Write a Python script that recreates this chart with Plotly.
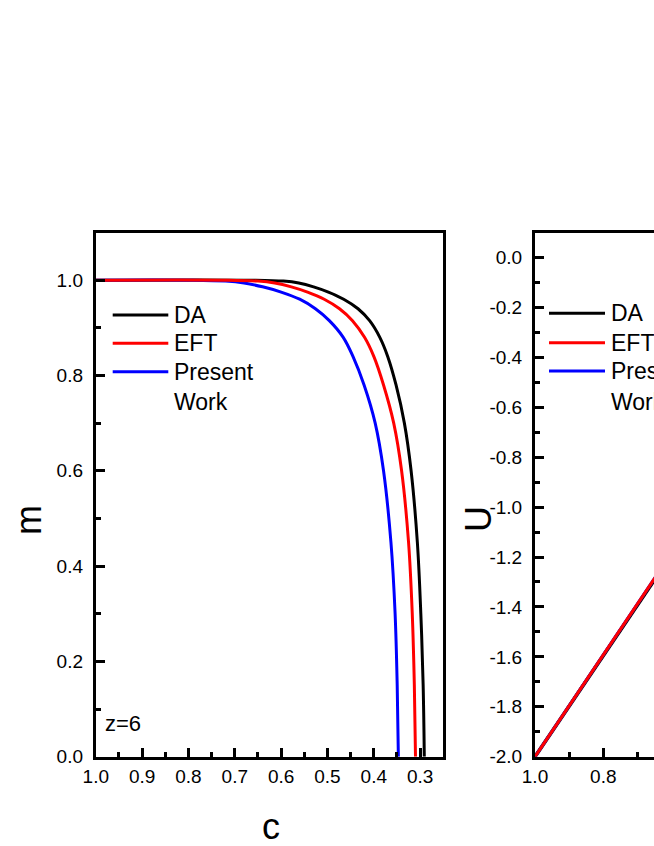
import plotly.graph_objects as go

# ---------------- data ----------------
# Left panel: m vs c (z=6)
m_levels = [0.0, 0.15, 0.3, 0.45, 0.6, 0.7, 0.78, 0.84, 0.88, 0.915, 0.94, 0.96, 0.975, 0.986, 0.994, 0.998, 1.0, 1.0]
c_DA = [0.291, 0.2935, 0.2985, 0.306, 0.3195, 0.334, 0.352, 0.370, 0.387, 0.409, 0.434, 0.465, 0.498, 0.530, 0.562, 0.595, 0.660, 1.0]
c_EFT = [0.310, 0.3125, 0.317, 0.325, 0.340, 0.357, 0.379, 0.400, 0.420, 0.446, 0.474, 0.507, 0.543, 0.578, 0.614, 0.650, 0.720, 1.0]
c_PW = [0.347, 0.3495, 0.354, 0.363, 0.379, 0.397, 0.421, 0.445, 0.466, 0.496, 0.526, 0.560, 0.600, 0.640, 0.680, 0.720, 0.800, 1.0]

# Right panel: U vs c (visible part)
c_U = [1.0, 0.9, 0.8, 0.7, 0.6]
U_DA = [-2.0, -1.799, -1.597, -1.392, -1.190]
U_EFT = [-2.0, -1.796, -1.592, -1.388, -1.184]
U_PW = [-2.0, -1.796, -1.592, -1.388, -1.184]

# tick labels
m_ticks = [0.0, 0.2, 0.4, 0.6, 0.8, 1.0]
m_ticklabels = ["0.0", "0.2", "0.4", "0.6", "0.8", "1.0"]
c_ticks = [1.0, 0.9, 0.8, 0.7, 0.6, 0.5, 0.4, 0.3]
c_ticklabels = ["1.0", "0.9", "0.8", "0.7", "0.6", "0.5", "0.4", "0.3"]
U_ticks = [0.0, -0.2, -0.4, -0.6, -0.8, -1.0, -1.2, -1.4, -1.6, -1.8, -2.0]
U_ticklabels = ["0.0", "-0.2", "-0.4", "-0.6", "-0.8", "-1.0", "-1.2", "-1.4", "-1.6", "-1.8", "-2.0"]
c2_ticks = [1.0, 0.8, 0.6]
c2_ticklabels = ["1.0", "0.8", "0.6"]

series_names = ["DA", "EFT", "Present Work"]
series_colors = ["#000000", "#ff0000", "#0000ff"]

W, H = 654, 846
def px(x):
    return x / W
def py(y):
    return 1 - y / H

FONT = "Liberation Sans, Arial, sans-serif"

fig = go.Figure()

left_data = [(c_DA, "#000000"), (c_PW, "#0000ff"), (c_EFT, "#ff0000")]
for cx, col in left_data:
    fig.add_trace(go.Scatter(x=cx, y=m_levels, mode="lines", xaxis="x", yaxis="y",
                             line=dict(color=col, width=3, shape="spline", smoothing=1.0),
                             showlegend=False, hoverinfo="skip"))

right_data = [(U_DA, "#000000", 3.6), (U_PW, "#0000ff", 3), (U_EFT, "#ff0000", 3)]
for uy, col, w in right_data:
    fig.add_trace(go.Scatter(x=c_U, y=uy, mode="lines", xaxis="x2", yaxis="y2",
                             line=dict(color=col, width=w), showlegend=False, hoverinfo="skip"))

# plot areas (pixels)
L1, R1 = 95.8, 443.3
L2 = 535.0
TOP, BOT = 232.5, 756.7

axis_common = dict(showline=True, linewidth=3, linecolor="black", ticks="inside",
                   tickwidth=3, ticklen=9, tickcolor="black", showgrid=False, zeroline=False,
                   automargin=False,
                   tickfont=dict(family=FONT, size=19, color="black"))

def minor(dt):
    return dict(ticks="inside", ticklen=5, tickwidth=3, tickcolor="black", dtick=dt, tick0=0, showgrid=False)

fig.update_layout(
    width=W, height=H, margin=dict(l=0, r=0, t=0, b=0, autoexpand=False),
    paper_bgcolor="white", plot_bgcolor="white",
    xaxis=dict(domain=[px(L1), px(R1)], range=[1.0, 0.25], tickmode="array",
               tickvals=c_ticks, ticktext=c_ticklabels, mirror=True, anchor="y",
               minor=minor(0.05), **axis_common),
    yaxis=dict(domain=[py(BOT), py(TOP)], range=[0, 1.1], tickmode="array",
               tickvals=m_ticks, ticktext=m_ticklabels, mirror=True, anchor="x",
               ticklabelstandoff=6, minor=minor(0.1), **axis_common),
    xaxis2=dict(domain=[px(L2), 1.0], range=[1.0, 1 - (W - L2) / 341.5], tickmode="array",
                tickvals=c2_ticks, ticktext=c2_ticklabels, mirror=True, anchor="y2",
                minor=minor(0.1), **axis_common),
    yaxis2=dict(domain=[py(BOT), py(TOP)], range=[-2.0, 0.1], tickmode="array",
                tickvals=U_ticks, ticktext=U_ticklabels, mirror=False, anchor="x2",
                ticklabelstandoff=6, minor=minor(0.1), **axis_common),
)

annotations = []
shapes = []

def legend(x0, x1, ys, ywork):
    for name, col, y in zip(series_names, series_colors, ys):
        shapes.append(dict(type="line", xref="paper", yref="paper", x0=px(x0), x1=px(x1),
                           y0=py(y), y1=py(y), line=dict(color=col, width=3)))
        label = name.split(" ")[0]
        annotations.append(dict(xref="paper", yref="paper", x=px(x1 + 4), y=py(y), text=label,
                                showarrow=False, xanchor="left", yanchor="middle",
                                font=dict(family=FONT, size=23, color="black")))
    annotations.append(dict(xref="paper", yref="paper", x=px(x1 + 4), y=py(ywork), text="Work",
                            showarrow=False, xanchor="left", yanchor="middle",
                            font=dict(family=FONT, size=23, color="black")))

legend(112.7, 168.3, [315.0, 343.3, 371.7], 401.5)
legend(549.0, 605.0, [313.3, 342.7, 371.0], 401.5)

annotations.append(dict(xref="paper", yref="paper", x=px(103), y=py(723), text="z=6",
                        showarrow=False, xanchor="left", yanchor="middle",
                        font=dict(family=FONT, size=22, color="black")))
annotations.append(dict(xref="paper", yref="paper", x=px(270.5), y=py(826), text="c",
                        showarrow=False, xanchor="center", yanchor="middle",
                        font=dict(family=FONT, size=36, color="black")))
annotations.append(dict(xref="paper", yref="paper", x=px(28), y=py(520), text="m", textangle=-90,
                        showarrow=False, xanchor="center", yanchor="middle",
                        font=dict(family=FONT, size=36, color="black")))
annotations.append(dict(xref="paper", yref="paper", x=px(478), y=py(519), text="U", textangle=-90,
                        showarrow=False, xanchor="center", yanchor="middle",
                        font=dict(family=FONT, size=36, color="black")))

fig.update_layout(annotations=annotations, shapes=shapes)

fig.write_html("out.html", config={"displayModeBar": False},
               post_script="document.body.style.margin='0px';document.body.style.overflow='hidden';")
